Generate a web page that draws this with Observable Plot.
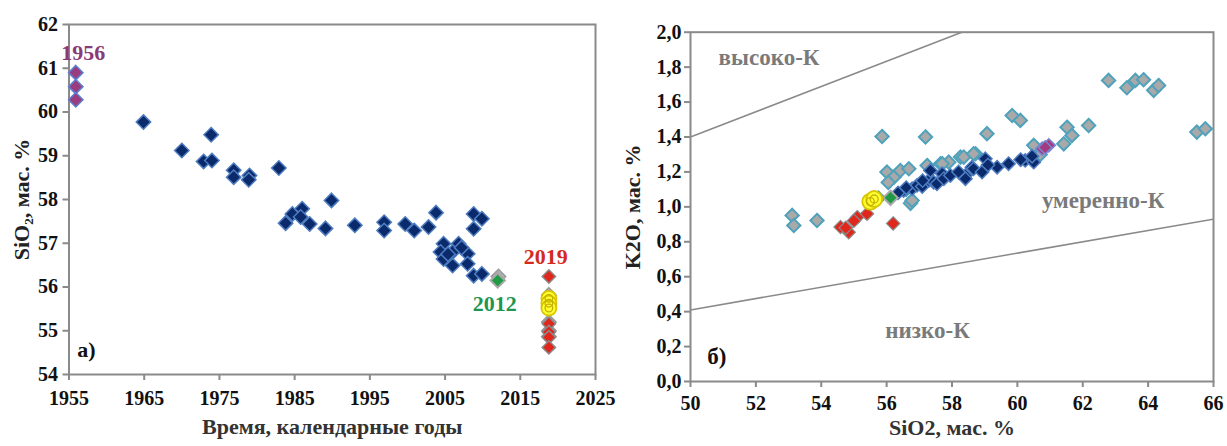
<!DOCTYPE html>
<html><head><meta charset="utf-8">
<script src="https://cdn.jsdelivr.net/npm/d3@7"></script>
<script src="https://cdn.jsdelivr.net/npm/@observablehq/plot@0.6"></script>
<style>
body{margin:0;background:#fff;}
#wrap{display:flex;width:1227px;height:446px;}
svg{font-family:"Liberation Serif","Times New Roman",serif;font-weight:bold;}
svg g[aria-label*="tick label"], svg g[aria-label*="tick label"] text{font-size:20px !important;font-weight:bold;fill:#111;}
</style></head><body><div id="wrap"></div>
<script>
// ---------- Panel a: SiO2 vs time ----------
const yearTicks = [1955,1965,1975,1985,1995,2005,2015,2025];
const sioTicksA = [54,55,56,57,58,59,60,61,62];
const a1956 = [[1955.9,60.9],[1955.9,60.58],[1955.9,60.28]];
const aBlue = [
 [1964.9,59.77],[1970.0,59.12],[1973.9,59.48],[1972.9,58.87],[1974.0,58.89],
 [1976.9,58.67],[1976.9,58.51],[1979.0,58.55],[1978.9,58.45],[1982.9,58.72],
 [1983.8,57.46],[1984.7,57.67],[1986.0,57.79],[1985.8,57.6],[1987.0,57.44],
 [1989.1,57.34],[1989.9,57.98],[1993.0,57.41],[1996.9,57.48],[1996.9,57.29],
 [1999.7,57.44],[2000.9,57.29],[2002.8,57.37],[2003.8,57.70],[2008.8,57.67],
 [2009.9,57.56],[2008.8,57.33],[2004.8,56.99],[2006.8,56.99],[2004.4,56.80],
 [2006.0,56.80],[2008.0,56.76],[2004.8,56.64],[2006.0,56.49],[2008.0,56.53],
 [2008.8,56.26],[2009.9,56.30],[2005.4,56.75],[2007.2,56.9]
];
const aGray = [[2012.1,56.24],[2018.8,55.82],[2018.8,55.2],[2018.8,55.0],[2018.8,54.87]];
const a2012 = [[2012.0,56.15]];
const a2019Red = [[2018.8,56.24],[2018.8,55.16],[2018.8,54.97],[2018.8,54.85],[2018.8,54.62]];
const a2019Yellow = [[2018.8,55.74],[2018.8,55.63],[2018.8,55.52]];
const aLabels = [
 {x:1956.9,y:61.34,t:"1956",c:"#8b3a78",a:"start"},
 {x:2011.6,y:55.62,t:"2012",c:"#1e9650",a:"middle"},
 {x:2018.4,y:56.68,t:"2019",c:"#d42a20",a:"middle"},
 {x:1957.3,y:54.55,t:"а)",c:"#111",a:"start"}
];

// ---------- Panel b: K2O vs SiO2 ----------
const sioTicksB = [50,52,54,56,58,60,62,64,66];
const k2oTicks = [0,0.2,0.4,0.6,0.8,1.0,1.2,1.4,1.6,1.8,2.0];
const highKLine = [[50,1.4],[58.3,2.0]];
const lowKLine = [[50,0.41],[66,0.93]];
const bGray = [
 [53.11,0.951],[53.16,0.893],[53.87,0.922],[55.86,1.403],[57.19,1.40],[56.01,1.199],
 [56.22,1.17],[56.42,1.208],[56.68,1.218],[57.24,1.237],[57.65,1.247],[57.9,1.256],
 [58.26,1.285],[58.36,1.285],[58.72,1.304],[59.07,1.419],[59.84,1.523],[60.09,1.495],
 [62.79,1.724],[63.35,1.682],[63.61,1.724],[63.86,1.728],[64.17,1.667],[64.32,1.695],
 [65.49,1.428],[65.75,1.447],[62.18,1.466],[61.52,1.456],[61.67,1.409],[61.42,1.361],
 [60.5,1.352],[56.73,1.02],[56.78,1.037],[56.05,1.14],[55.75,1.05],[57.7,1.247],
 [60.7,1.30],[58.66,1.304],[56.6,1.10]
];
const bBlue = [
 [56.52,1.094],[56.78,1.104],[56.93,1.123],[57.09,1.117],[57.29,1.151],[57.34,1.208],
 [57.44,1.141],[57.54,1.132],[57.7,1.19],[57.75,1.161],[57.95,1.18],[58.41,1.18],
 [58.41,1.161],[58.61,1.227],[58.66,1.218],[58.92,1.199],[59.02,1.275],[59.38,1.227],
 [59.73,1.247],[60.24,1.266],[60.5,1.256],[56.35,1.08],[56.6,1.11],[57.1,1.15],
 [58.2,1.2],[59.1,1.24],[60.1,1.27],[60.45,1.29]
];
const bPurple = [[60.96,1.352],[60.76,1.333],[60.85,1.34]];
const bRed = [[54.59,0.884],[54.84,0.855],[54.75,0.88],[55.10,0.941],[55.0,0.92],[55.40,0.96],[56.2,0.905]];
const bGreen = [[56.12,1.052]];
const bYellow = [[55.5,1.03],[55.62,1.045]];
const bLabels = [
 {x:50.86,y:1.857,t:"высоко-К",c:"#7a7a7a"},
 {x:60.75,y:1.037,t:"умеренно-К",c:"#7a7a7a"},
 {x:55.96,y:0.292,t:"низко-К",c:"#7a7a7a"},
 {x:50.51,y:0.14,t:"б)",c:"#111"}
];

const AX = "#8a8a8a";
const X = d => d[0], Y = d => d[1];
const tickText = {fontSize: 20, fontWeight: "bold", fill: "#111"};

const plotA = Plot.plot({
  width: 600, height: 446,
  marginLeft: 68.5, marginRight: 5, marginTop: 24, marginBottom: 72,
  x: {domain: [1955, 2025]},
  y: {domain: [54, 62]},
  style: {fontFamily: "Liberation Serif, serif", fontSize: "20px", color: "#111", background: "none", overflow: "visible"},
  marks: [
    Plot.frame({stroke: AX, strokeWidth: 2}),
    Plot.axisX({ticks: yearTicks, tickSize: 6, tickPadding: 10, stroke: AX, strokeWidth: 2, tickFormat: d => String(d), label: null, ...tickText}),
    Plot.axisY({ticks: sioTicksA, tickSize: 6, tickPadding: 5, stroke: AX, strokeWidth: 2, tickFormat: d => String(d), label: null, ...tickText}),
    Plot.dot(aGray, {x: X, y: Y, symbol: "diamond2", r: 6.5, fill: "#b0b0b0", stroke: "#9a9a9a", strokeWidth: 1.5}),
    Plot.dot(aBlue, {x: X, y: Y, symbol: "diamond2", r: 6.5, fill: "#0b2a6b", stroke: "#4d7cc0", strokeWidth: 1.5}),
    Plot.dot(a1956, {x: X, y: Y, symbol: "diamond2", r: 6.5, fill: "#9a3d80", stroke: "#5d7fcf", strokeWidth: 1.5}),
    Plot.dot(a2012, {x: X, y: Y, symbol: "diamond2", r: 6.5, fill: "#1f9a45", stroke: "#a8a8a8", strokeWidth: 2}),
    Plot.dot(a2019Red, {x: X, y: Y, symbol: "diamond2", r: 6, fill: "#e1261c", stroke: "#8a8a8a", strokeWidth: 1.5}),
    Plot.dot(a2019Yellow, {x: X, y: Y, r: 7.5, fill: "#ffff30", stroke: "#d8c400", strokeWidth: 1.8}),
    Plot.dot(a2019Yellow, {x: X, y: Y, r: 3.8, fill: "none", stroke: "#c8b000", strokeWidth: 1.3}),
    Plot.text(aLabels, {x: "x", y: "y", text: "t", fill: "c", textAnchor: "a", fontSize: 22, fontWeight: "bold"}),
    Plot.text(["SiO₂, мас. %"], {frameAnchor: "left", rotate: -90, dx: -47, textAnchor: "middle", lineAnchor: "middle", fontSize: 22, fontWeight: "bold", fill: "#222"}),
    Plot.text(["Время, календарные годы"], {frameAnchor: "bottom", lineAnchor: "middle", dy: 52, fontSize: 22, fontWeight: "bold", fill: "#333"})
  ]
});

const fmtComma = d => d.toFixed(1).replace(".", ",");
const plotB = Plot.plot({
  width: 627, height: 446,
  marginLeft: 90, marginRight: 14, marginTop: 31.7, marginBottom: 65,
  x: {domain: [50, 66]},
  y: {domain: [0, 2]},
  style: {fontFamily: "Liberation Serif, serif", fontSize: "20px", color: "#111", background: "none", overflow: "visible"},
  marks: [
    Plot.frame({stroke: AX, strokeWidth: 2}),
    Plot.axisX({ticks: sioTicksB, tickSize: 6, tickPadding: 8, stroke: AX, strokeWidth: 2, tickFormat: d => String(d), label: null, ...tickText}),
    Plot.axisY({ticks: k2oTicks, tickSize: 6, tickPadding: 3, stroke: AX, strokeWidth: 2, tickFormat: fmtComma, label: null, ...tickText}),
    Plot.line(highKLine, {x: X, y: Y, stroke: "#8a8a8a", strokeWidth: 1.5, clip: true}),
    Plot.line(lowKLine, {x: X, y: Y, stroke: "#8a8a8a", strokeWidth: 1.5, clip: true}),
    Plot.dot(bGray, {x: X, y: Y, symbol: "diamond2", r: 6, fill: "#a9a9a9", stroke: "#4ea2bb", strokeWidth: 2}),
    Plot.dot(bBlue, {x: X, y: Y, symbol: "diamond2", r: 6, fill: "#0b2a6b", stroke: "#4d7cc0", strokeWidth: 1.5}),
    Plot.dot(bPurple, {x: X, y: Y, symbol: "diamond2", r: 6, fill: "#a23c80", stroke: "#7b86d0", strokeWidth: 1.5}),
    Plot.dot(bRed, {x: X, y: Y, symbol: "diamond2", r: 6, fill: "#e1261c", stroke: "#8a8a8a", strokeWidth: 1.2}),
    Plot.dot(bGreen, {x: X, y: Y, symbol: "diamond2", r: 6.5, fill: "#1f9a45", stroke: "#a8a8a8", strokeWidth: 2}),
    Plot.dot(bYellow, {x: X, y: Y, r: 8, fill: "#ffff30", stroke: "#d8c400", strokeWidth: 1.8}),
    Plot.dot(bYellow, {x: X, y: Y, r: 4, fill: "none", stroke: "#c8b000", strokeWidth: 1.3}),
    Plot.text(bLabels, {x: "x", y: "y", text: "t", fill: "c", textAnchor: "start", fontSize: 23, fontWeight: "bold"}),
    Plot.text(["K2O, мас. %"], {frameAnchor: "left", rotate: -90, dx: -58, textAnchor: "middle", lineAnchor: "middle", fontSize: 22, fontWeight: "bold", fill: "#222"}),
    Plot.text(["SiO2, мас. %"], {frameAnchor: "bottom", lineAnchor: "middle", dy: 46, fontSize: 22, fontWeight: "bold", fill: "#333"})
  ]
});

const wrap = document.getElementById("wrap");
wrap.appendChild(plotA);
wrap.appendChild(plotB);
</script></body></html>
